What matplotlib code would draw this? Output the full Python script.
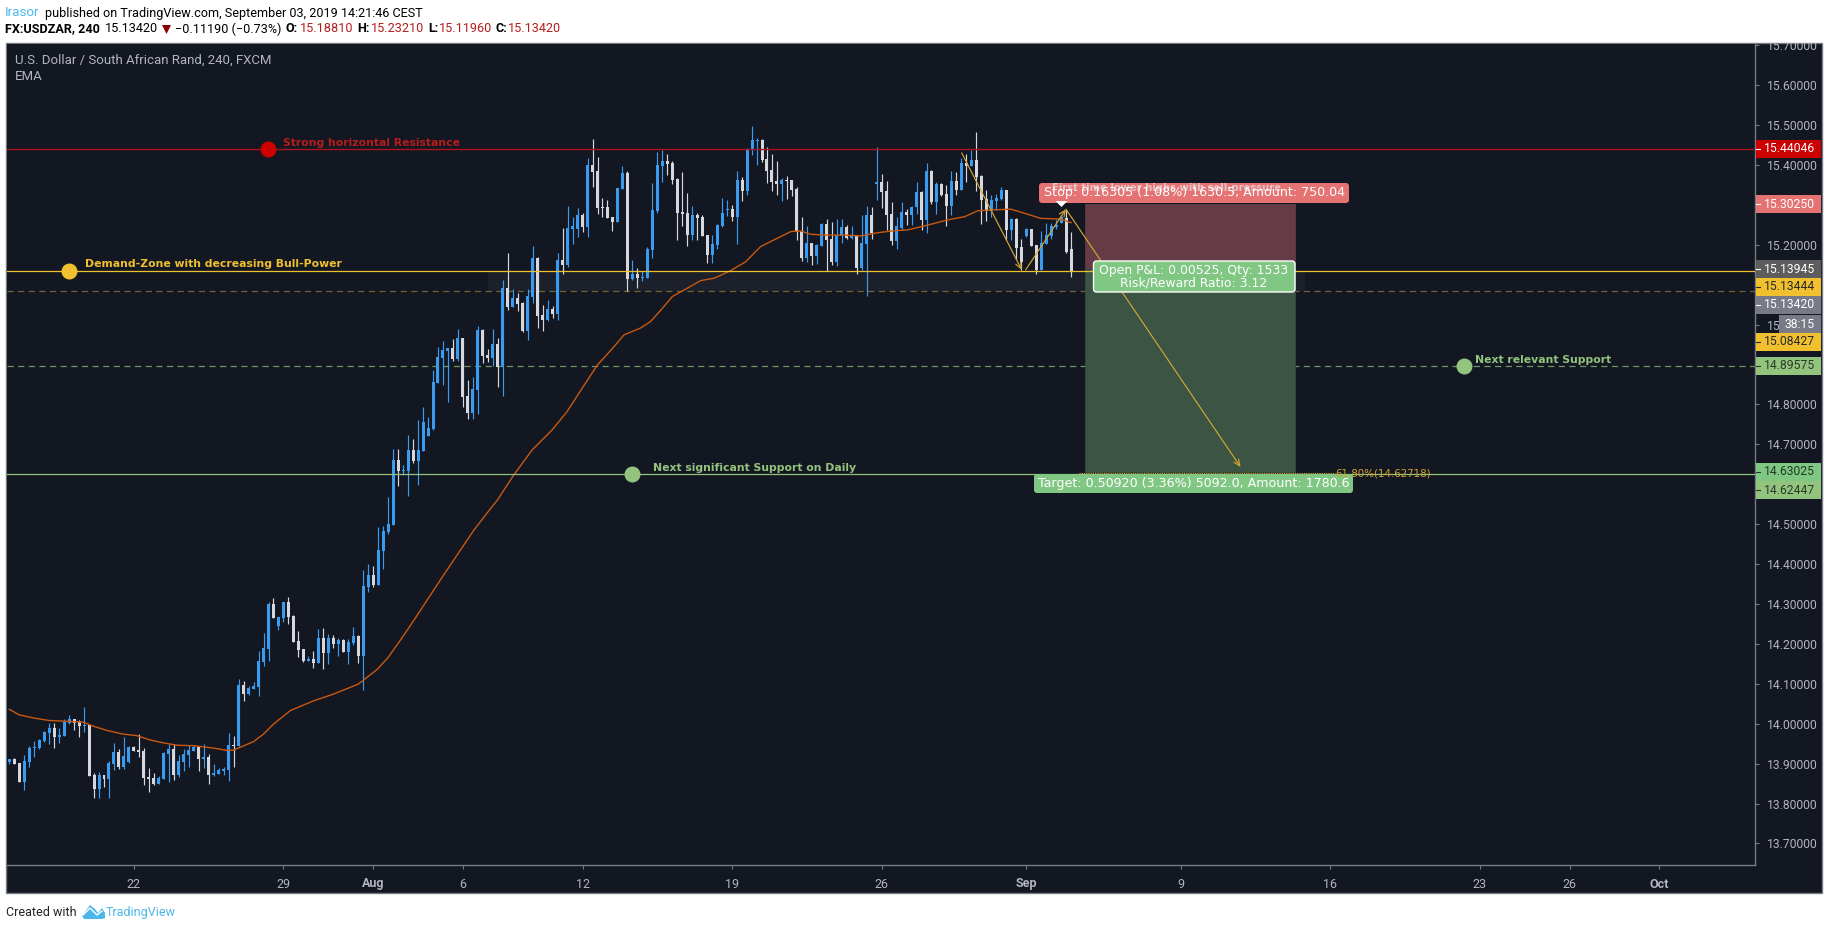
import matplotlib

matplotlib.use("Agg")
import matplotlib.pyplot as plt
from matplotlib.patches import FancyBboxPatch, Polygon, Rectangle
from matplotlib.transforms import Bbox, TransformedBbox

W, H = 1828, 930
BG = "#131722"
EDGE = "#787b86"
TXT = "#b2b5be"
UP = "#3a9cf0"
DOWN = "#d6d8de"
RED = "#cc0000"
YEL = "#f0c02e"
GRN = "#93c47d"
BLUE = "#4cb7ea"

opens = [
    13.903, 13.912, 13.902, 13.853, 13.904, 13.938, 13.939, 13.957, 13.977, 13.989,
    13.967, 13.969, 14.002, 14.012, 14.004, 13.994, 13.997, 13.872, 13.837, 13.872,
    13.862, 13.899, 13.929, 13.892, 13.904, 13.942, 13.934, 13.932, 13.867, 13.864,
    13.849, 13.862, 13.924, 13.937, 13.872, 13.904, 13.922, 13.932, 13.942, 13.912,
    13.917, 13.872, 13.874, 13.882, 13.884, 13.947, 13.944, 14.097, 14.075, 14.087,
    14.092, 14.155, 14.187, 14.300, 14.244, 14.265, 14.305, 14.269, 14.207, 14.187,
    14.157, 14.162, 14.152, 14.214, 14.177, 14.214, 14.199, 14.209, 14.179, 14.202,
    14.219, 14.169, 14.342, 14.372, 14.347, 14.432, 14.480, 14.498, 14.661, 14.633,
    14.633, 14.686, 14.658, 14.683, 14.721, 14.739, 14.854, 14.916, 14.934, 14.941,
    14.914, 14.966, 14.821, 14.779, 14.836, 14.986, 14.924, 14.916, 14.951, 14.894,
    15.092, 15.044, 15.067, 15.054, 14.984, 15.069, 15.167, 15.024, 15.012, 15.039,
    15.027, 15.161, 15.149, 15.239, 15.239, 15.274, 15.244, 15.399, 15.384, 15.294,
    15.294, 15.269, 15.256, 15.339, 15.379, 15.114, 15.126, 15.116, 15.116, 15.186,
    15.284, 15.397, 15.409, 15.404, 15.364, 15.281, 15.279, 15.224, 15.274, 15.269,
    15.224, 15.174, 15.199, 15.246, 15.286, 15.289, 15.269, 15.362, 15.334, 15.439,
    15.459, 15.462, 15.414, 15.387, 15.359, 15.352, 15.362, 15.362, 15.339, 15.234,
    15.166, 15.204, 15.171, 15.196, 15.251, 15.214, 15.156, 15.221, 15.244, 15.216,
    15.224, 15.141, 15.201, 15.274, 15.352, 15.357, 15.334, 15.276, 15.209, 15.241,
    15.281, 15.274, 15.294, 15.332, 15.261, 15.384, 15.307, 15.352, 15.327, 15.297,
    15.359, 15.337, 15.404, 15.397, 15.412, 15.372, 15.314, 15.284, 15.309, 15.314,
    15.337, 15.236, 15.264, 15.194, 15.221, 15.239, 15.199, 15.136, 15.201, 15.221,
    15.244, 15.254, 15.266, 15.188,
]
highs = [
    13.911, 13.913, 13.902, 13.922, 13.944, 13.957, 13.962, 13.982, 14.001, 14.002,
    13.989, 14.012, 14.022, 14.012, 14.009, 14.042, 13.999, 13.877, 13.879, 13.872,
    13.907, 13.952, 13.937, 13.967, 13.944, 13.944, 13.974, 13.939, 13.889, 13.877,
    13.869, 13.929, 13.949, 13.949, 13.922, 13.937, 13.947, 13.947, 13.944, 13.949,
    13.924, 13.899, 13.889, 13.892, 13.977, 13.969, 14.112, 14.107, 14.095, 14.105,
    14.182, 14.227, 14.305, 14.315, 14.267, 14.305, 14.317, 14.272, 14.232, 14.187,
    14.169, 14.182, 14.237, 14.239, 14.224, 14.222, 14.214, 14.212, 14.212, 14.242,
    14.222, 14.385, 14.400, 14.395, 14.492, 14.495, 14.568, 14.688, 14.688, 14.648,
    14.723, 14.713, 14.761, 14.794, 14.769, 14.886, 14.944, 14.959, 14.941, 14.964,
    14.989, 14.966, 14.861, 14.869, 14.997, 14.989, 14.939, 14.989, 14.966, 15.112,
    15.179, 15.089, 15.079, 15.057, 15.089, 15.197, 15.169, 15.049, 15.062, 15.047,
    15.179, 15.241, 15.297, 15.269, 15.292, 15.279, 15.417, 15.464, 15.419, 15.317,
    15.312, 15.269, 15.342, 15.397, 15.384, 15.161, 15.141, 15.134, 15.194, 15.354,
    15.432, 15.437, 15.427, 15.409, 15.367, 15.382, 15.329, 15.297, 15.279, 15.274,
    15.224, 15.224, 15.251, 15.317, 15.312, 15.299, 15.384, 15.369, 15.442, 15.497,
    15.467, 15.464, 15.444, 15.427, 15.409, 15.367, 15.372, 15.362, 15.344, 15.269,
    15.246, 15.204, 15.201, 15.254, 15.264, 15.256, 15.264, 15.264, 15.249, 15.246,
    15.224, 15.274, 15.297, 15.294, 15.444, 15.377, 15.359, 15.307, 15.269, 15.307,
    15.289, 15.297, 15.357, 15.334, 15.404, 15.387, 15.357, 15.354, 15.349, 15.384,
    15.382, 15.417, 15.427, 15.437, 15.482, 15.374, 15.337, 15.324, 15.327, 15.344,
    15.337, 15.266, 15.266, 15.214, 15.241, 15.239, 15.199, 15.234, 15.254, 15.254,
    15.262, 15.274, 15.287, 15.232,
]
lows = [
    13.898, 13.900, 13.853, 13.834, 13.892, 13.917, 13.937, 13.954, 13.949, 13.939,
    13.952, 13.969, 13.999, 13.984, 13.967, 13.979, 13.869, 13.814, 13.814, 13.842,
    13.814, 13.884, 13.887, 13.887, 13.902, 13.932, 13.917, 13.847, 13.829, 13.847,
    13.849, 13.862, 13.854, 13.859, 13.867, 13.882, 13.892, 13.932, 13.882, 13.889,
    13.849, 13.869, 13.874, 13.872, 13.857, 13.892, 13.944, 14.057, 14.072, 14.087,
    14.070, 14.145, 14.157, 14.265, 14.234, 14.254, 14.249, 14.204, 14.167, 14.154,
    14.157, 14.139, 14.152, 14.137, 14.149, 14.189, 14.169, 14.179, 14.149, 14.197,
    14.152, 14.084, 14.330, 14.342, 14.347, 14.387, 14.475, 14.498, 14.596, 14.623,
    14.571, 14.653, 14.598, 14.683, 14.721, 14.736, 14.854, 14.849, 14.806, 14.909,
    14.909, 14.794, 14.764, 14.764, 14.776, 14.904, 14.906, 14.896, 14.844, 14.821,
    15.037, 15.044, 15.034, 14.981, 14.961, 15.054, 14.992, 14.984, 15.009, 15.017,
    15.012, 15.126, 15.144, 15.201, 15.219, 15.231, 15.219, 15.344, 15.276, 15.269,
    15.266, 15.234, 15.256, 15.339, 15.084, 15.111, 15.091, 15.109, 15.116, 15.166,
    15.279, 15.357, 15.374, 15.352, 15.211, 15.246, 15.196, 15.211, 15.211, 15.221,
    15.154, 15.154, 15.189, 15.244, 15.271, 15.259, 15.201, 15.309, 15.324, 15.424,
    15.399, 15.407, 15.354, 15.334, 15.324, 15.309, 15.314, 15.322, 15.211, 15.159,
    15.156, 15.149, 15.151, 15.196, 15.134, 15.149, 15.146, 15.204, 15.214, 15.214,
    15.126, 15.136, 15.071, 15.214, 15.312, 15.292, 15.236, 15.199, 15.189, 15.236,
    15.249, 15.249, 15.276, 15.236, 15.229, 15.302, 15.276, 15.322, 15.246, 15.274,
    15.324, 15.337, 15.357, 15.397, 15.334, 15.251, 15.259, 15.269, 15.287, 15.312,
    15.211, 15.211, 15.164, 15.136, 15.219, 15.196, 15.126, 15.136, 15.201, 15.214,
    15.240, 15.254, 15.179, 15.120,
]
closes = [
    13.911, 13.900, 13.853, 13.907, 13.939, 13.942, 13.959, 13.979, 13.989, 13.967,
    13.971, 14.004, 14.012, 14.002, 13.994, 13.997, 13.869, 13.837, 13.872, 13.862,
    13.902, 13.929, 13.892, 13.919, 13.942, 13.932, 13.929, 13.864, 13.862, 13.849,
    13.864, 13.927, 13.937, 13.872, 13.907, 13.924, 13.934, 13.942, 13.912, 13.917,
    13.872, 13.877, 13.884, 13.887, 13.947, 13.944, 14.097, 14.075, 14.090, 14.095,
    14.157, 14.190, 14.300, 14.265, 14.267, 14.305, 14.267, 14.204, 14.184, 14.157,
    14.162, 14.152, 14.214, 14.177, 14.214, 14.199, 14.209, 14.179, 14.204, 14.219,
    14.169, 14.345, 14.372, 14.347, 14.435, 14.482, 14.500, 14.661, 14.633, 14.636,
    14.686, 14.658, 14.686, 14.756, 14.741, 14.856, 14.919, 14.936, 14.941, 14.914,
    14.966, 14.819, 14.779, 14.839, 14.986, 14.921, 14.916, 14.951, 14.894, 15.092,
    15.044, 15.067, 15.052, 14.984, 15.072, 15.167, 15.022, 15.012, 15.039, 15.027,
    15.162, 15.149, 15.241, 15.246, 15.274, 15.244, 15.399, 15.382, 15.292, 15.292,
    15.266, 15.256, 15.342, 15.379, 15.114, 15.126, 15.116, 15.119, 15.189, 15.286,
    15.399, 15.409, 15.402, 15.362, 15.279, 15.276, 15.224, 15.274, 15.266, 15.221,
    15.174, 15.201, 15.249, 15.279, 15.289, 15.269, 15.362, 15.334, 15.437, 15.462,
    15.462, 15.412, 15.384, 15.357, 15.352, 15.362, 15.359, 15.337, 15.231, 15.166,
    15.204, 15.171, 15.199, 15.251, 15.211, 15.156, 15.224, 15.244, 15.216, 15.224,
    15.141, 15.204, 15.274, 15.229, 15.357, 15.332, 15.274, 15.209, 15.246, 15.281,
    15.274, 15.294, 15.332, 15.261, 15.384, 15.307, 15.352, 15.324, 15.297, 15.359,
    15.337, 15.404, 15.397, 15.412, 15.369, 15.312, 15.284, 15.312, 15.317, 15.337,
    15.236, 15.264, 15.191, 15.156, 15.239, 15.196, 15.136, 15.204, 15.224, 15.246,
    15.249, 15.269, 15.182, 15.134,
]

ema_idx = [
    0, 2, 5, 8, 11.6, 14.8, 16.8, 19.6, 22.8, 25.6, 28.3, 30.9, 33.7, 36.9, 40.9, 43.7, 45,
    49, 51, 53, 56.4, 61, 65, 70, 73.8, 76, 78.5, 81, 87, 93.2, 95.8, 97.9, 101.2, 104.9,
    108.9, 111.9, 114.9, 118, 121, 123.3, 126.6, 128.6, 130.7, 133, 136, 138.7, 141.4,
    144.7, 147.7, 150.7, 153.4, 156.8, 158.8, 160.8, 164.1, 167.5, 170.8, 174.2, 177.5,
    180.2, 184.2, 188.2, 191.6, 194.3, 196.9, 200.9, 203.6, 206.9, 211, 213,
]
ema_val = [
    14.036, 14.022, 14.014, 14.008, 14.006, 14.004, 13.994, 13.983, 13.974, 13.970, 13.959,
    13.952, 13.946, 13.945, 13.939, 13.933, 13.934, 13.955, 13.974, 13.999, 14.033, 14.057,
    14.074, 14.099, 14.136, 14.166, 14.210, 14.256, 14.370, 14.485, 14.527, 14.560, 14.623,
    14.686, 14.736, 14.782, 14.840, 14.899, 14.940, 14.974, 14.991, 15.007, 15.036, 15.070,
    15.091, 15.110, 15.116, 15.135, 15.157, 15.195, 15.212, 15.233, 15.234, 15.226, 15.224,
    15.224, 15.222, 15.230, 15.235, 15.237, 15.249, 15.262, 15.270, 15.285, 15.287, 15.289,
    15.279, 15.266, 15.264, 15.255,
]

y_ticks = [13.7, 13.8, 13.9, 14.0, 14.1, 14.2, 14.3, 14.4, 14.5, 14.6, 14.7, 14.8, 14.9,
           15.0, 15.1, 15.2, 15.3, 15.4, 15.5, 15.6, 15.7]
covered_ticks = [14.6, 14.9, 15.1, 15.3]  # behind the badges in the reference
x_tick_idx = [25, 55, 73, 91, 115, 145, 175, 204, 235, 265, 295, 313, 331]
x_tick_labels = ["22", "29", "Aug", "6", "12", "19", "26", "Sep", "9", "16", "23", "26", "Oct"]

resistance = 15.44046
demand_top = 15.13444
demand_bottom = 15.08427
support_near = 14.89575
support_daily = 14.62447
fib_level = 14.62718
stop_price = 15.30250
entry_price = 15.13945
target_price = 14.63025

# zig-zag drawing: (start idx, start price, end idx, end price)
arrow_segments = [
    (191.05, 15.430, 203.1, 15.137),
    (203.9, 15.137, 211.97, 15.289),
    (211.97, 15.289, 247.0, 14.643),
]

# right axis badges: text, centre y in px, box colour, text colour
badges = [
    ("15.44046", 148.7, RED, "white"),
    ("15.30250", 204.0, "#e57373", "white"),
    ("15.13945", 269.0, "#5d5d5d", "white"),
    ("15.13444", 286.8, YEL, "#2a2a2a"),
    ("15.13420", 304.8, "#787b86", "white"),
    ("15.08427", 341.8, YEL, "#2a2a2a"),
    ("14.89575", 365.8, GRN, "#2a3a2a"),
    ("14.63025", 471.8, "#81c784", "#1f3a24"),
    ("14.62447", 490.0, GRN, "#2a3a2a"),
]

X0, X1, Y0, Y1 = 6.5, 1755.0, 43.5, 865.0

fig = plt.figure(figsize=(W / 100, H / 100), dpi=100, facecolor="white")
plt.rcParams["font.family"] = ["Roboto", "DejaVu Sans"]

panel = Rectangle((6 / W, 1 - 893 / H), 1816 / W, 850 / H, transform=fig.transFigure,
                  facecolor=BG, edgecolor=EDGE, linewidth=1.0, zorder=-1)
fig.add_artist(panel)

ax = fig.add_axes([X0 / W, 1 - Y1 / H, (X1 - X0) / W, (Y1 - Y0) / H], facecolor=BG)
ax.set_xlim(-0.56, 350.2)
ax.set_ylim(13.646, 15.704)
for side in ("top", "left"):
    ax.spines[side].set_visible(False)
for side in ("right", "bottom"):
    ax.spines[side].set_color(EDGE)
    ax.spines[side].set_linewidth(1.0)

idx = list(range(len(opens)))
colors = [UP if c >= o else DOWN for o, c in zip(opens, closes)]
ax.vlines(idx, lows, highs, colors=colors, linewidth=0.85, zorder=3)
bottoms = [min(o, c) for o, c in zip(opens, closes)]
heights = [max(abs(c - o), 0.003) for o, c in zip(opens, closes)]
ax.bar(idx, heights, bottom=bottoms, width=0.6, color=colors, linewidth=0, zorder=3)
ax.plot(ema_idx, ema_val, color="#c8590f", linewidth=1.0, zorder=4)

ax.add_patch(Rectangle((96, demand_bottom), 164, demand_top - demand_bottom,
                       facecolor="#1c202b", edgecolor="none", zorder=1))
ax.add_patch(Rectangle((215.8, entry_price), 42.2, stop_price - entry_price,
                       facecolor="#653c45", edgecolor="#5a3a42", linewidth=0.7, zorder=3.5))
ax.add_patch(Rectangle((215.8, target_price), 42.2, entry_price - target_price,
                       facecolor="#3b5443", edgecolor="#34493c", linewidth=0.7, zorder=3.5))

ax.axhline(resistance, color="#a81419", linewidth=1.0, zorder=5)
ax.axhline(demand_top, color=YEL, linewidth=0.9, zorder=5)
ax.axhline(demand_bottom, color="#6f6236", linewidth=0.9, linestyle=(0, (5, 3.5)), zorder=2)
ax.axhline(support_near, color="#6f9660", linewidth=0.9, linestyle=(0, (5, 3.5)), zorder=2)
ax.axhline(support_daily, color=GRN, linewidth=0.9, zorder=5)
ax.plot([214.5, 266], [fib_level, fib_level], color="#d6a32a", linewidth=0.8,
        linestyle=(0, (1, 1)), zorder=5)

for x_a, y_a, x_b, y_b in arrow_segments:
    ax.annotate("", xy=(x_b, y_b), xytext=(x_a, y_a), zorder=6,
                arrowprops=dict(arrowstyle="->,head_length=0.45,head_width=0.2",
                                color="#d0a72e", linewidth=0.85, shrinkA=0, shrinkB=0))

# anchor dots with their notes
dots = [
    (51.9, resistance, RED, "Strong horizontal Resistance", "#b71c1c", 15, 6),
    (12.0, demand_top, YEL, "Demand-Zone with decreasing Bull-Power", YEL, 16, 6.5),
    (291.9, support_near, GRN, "Next relevant Support", GRN, 11, 6),
    (124.9, support_daily, GRN, "Next significant Support on Daily", GRN, 21, 6.5),
]
for x_d, y_d, col, note, note_col, off_x, off_y in dots:
    ax.plot([x_d], [y_d], "o", markersize=11.5, color=col, markeredgewidth=0, zorder=7)
    ax.annotate(note, xy=(x_d, y_d), xytext=(off_x * 0.72, off_y * 0.72),
                textcoords="offset points", va="center", ha="left", color=note_col,
                fontsize=7.85, fontweight="bold", family="DejaVu Sans", zorder=7)

ax.yaxis.tick_right()
ax.set_yticks(y_ticks, ["" if v in covered_ticks else f"{v:.5f}" for v in y_ticks])
ax.tick_params(axis="y", length=3, width=0.8, color=EDGE, labelcolor=TXT, labelsize=8.7, pad=5.5)
ax.set_xticks(x_tick_idx, x_tick_labels)
ax.tick_params(axis="x", length=3, width=0.8, color=EDGE, labelcolor=TXT, labelsize=9, pad=6)
for lab in ax.get_xticklabels():
    if lab.get_text() in ("Aug", "Sep", "Oct"):
        lab.set_fontweight("bold")
clip = TransformedBbox(Bbox([[0, 0], [1, 1 - Y0 / H]]), fig.transFigure)
for lab in ax.get_yticklabels():
    lab.set_clip_box(clip)
    lab.set_clip_on(True)

# overlay in pixel units for the page text and labels
ov = fig.add_axes([0, 0, 1, 1], facecolor="none", zorder=10)
ov.set_xlim(0, W)
ov.set_ylim(H, 0)
ov.axis("off")


def put(x, y, s, color="black", size=9.05, weight="normal", ha="left", **kw):
    ov.text(x, y, s, color=color, fontsize=size, fontweight=weight, ha=ha, va="center", **kw)


def round_box(x0, y0, x1, y1, color, edge="none"):
    ov.add_patch(FancyBboxPatch((x0, y0), x1 - x0, y1 - y0, facecolor=color, edgecolor=edge,
                                linewidth=1.0, boxstyle="round,pad=0,rounding_size=3"))


put(5, 13, "Irasor", BLUE, size=9.6)
put(45, 13, "published on TradingView.com, September 03, 2019 14:21:46 CEST")
put(5, 29, "FX:USDZAR, 240", weight="bold")
put(105, 29, "15.13420")
ov.add_patch(Polygon([[162, 25], [171, 25], [166.5, 34]], facecolor="#8b0000", edgecolor="none"))
put(175, 29, "\u22120.11190 (\u22120.73%)")
for x_key, key, x_val, val in [(286, "O:", 300, "15.18810"), (357, "H:", 371, "15.23210"),
                               (428, "L:", 439, "15.11960"), (496, "C:", 508, "15.13420")]:
    put(x_key, 29, key, weight="bold")
    put(x_val, 29, val, "#b71c1c")

put(15, 60, "U.S. Dollar / South African Rand, 240, FXCM", TXT, size=9.5)
put(15, 77, "EMA", TXT, size=9.5)

for text, cy, col, tcol in badges:
    ov.add_patch(Rectangle((1755.5, cy - 9), 65.5, 18, facecolor=col, edgecolor="none"))
    ov.plot([1755.5, 1759.5], [cy, cy], color=tcol, linewidth=0.8)
    put(1764, cy, text, tcol, size=8.7)
ov.add_patch(Rectangle((1779, 315), 42, 18, facecolor="#787b86", edgecolor="none"))
put(1800, 324, "38:15", "white", size=8.7, ha="center")

round_box(1039, 183, 1349, 203, "#e57373")
put(1167, 188, "First time lower highs with sell-pressure", "#e8e0e2", size=7.2, ha="center",
    family="DejaVu Sans", weight="bold", alpha=0.75)
put(1195, 192.5, "Stop: 0.16305 (1.08%) 1630.5, Amount: 750.04", "white", size=9.05, ha="center",
    family="DejaVu Sans")
ov.add_patch(Polygon([[1055.5, 201], [1067.5, 201], [1061.5, 207]], facecolor="white", edgecolor="none"))
round_box(1093.5, 261, 1295, 292, "#81c784", edge="white")
put(1194, 270.7, "Open P&L: 0.00525, Qty: 1533", "white", size=8.95, ha="center", family="DejaVu Sans")
put(1194, 282.7, "Risk/Reward Ratio: 3.12", "white", size=8.95, ha="center", family="DejaVu Sans")
round_box(1034, 474, 1353, 493, "#81c784")
put(1194, 483.7, "Target: 0.50920 (3.36%) 5092.0, Amount: 1780.6", "white", size=9.05, ha="center",
    family="DejaVu Sans")
put(1335, 473.5, "61.80%(14.62718)", "#d6a32a", size=7.4, family="DejaVu Sans")

put(6, 912, "Created with", "#222222", size=9)
ov.add_patch(Polygon([[82, 916], [90, 905], [95, 909], [98, 913], [102, 908], [105, 913],
                      [105, 918], [102, 919], [84, 919]], facecolor=BLUE, edgecolor="none"))
ov.plot([83, 90, 97, 102], [915, 908, 915, 911], color="white", linewidth=1.0)
put(106, 912, "TradingView", BLUE, size=9)

fig.savefig("out.png", dpi=100, facecolor="white")
